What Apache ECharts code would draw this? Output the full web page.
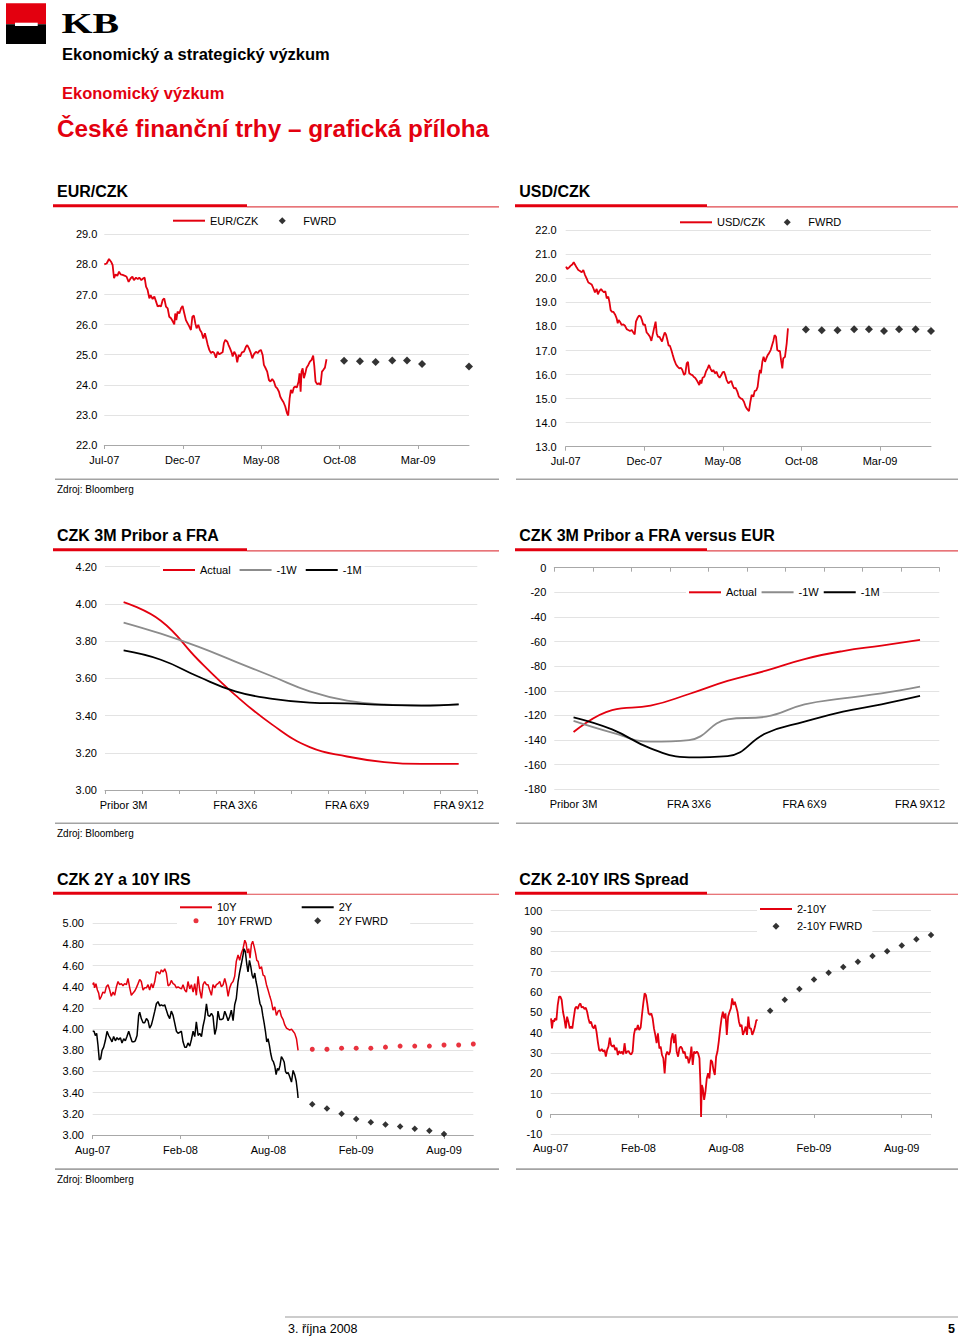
<!DOCTYPE html>
<html><head><meta charset="utf-8">
<script src="https://cdn.jsdelivr.net/npm/echarts@6/dist/echarts.min.js"></script>
<style>html,body{margin:0;padding:0;background:#fff}#c{width:960px;height:1337px}</style>
</head><body><div id="c"></div>
<script>
// ---------- DATA ----------
// x of the FX and IRS charts = months since the first axis label (Jul-07 / Aug-07)
const fxTickLabels = ['Jul-07','Dec-07','May-08','Oct-08','Mar-09'];
const irsTickLabels = ['Aug-07','Feb-08','Aug-08','Feb-09','Aug-09'];

const eurczkSpot = [[0.00,28.00],[0.15,28.03],[0.30,28.18],[0.43,28.09],[0.53,27.98],[0.62,27.54],[0.72,27.67],[0.83,27.62],[0.94,27.76],[1.04,27.67],[1.17,27.65],[1.32,27.62],[1.42,27.59],[1.55,27.42],[1.68,27.54],[1.79,27.59],[1.89,27.48],[2.02,27.56],[2.13,27.51],[2.23,27.56],[2.36,27.48],[2.49,27.54],[2.57,27.56],[2.66,27.26],[2.76,27.15],[2.87,26.87],[2.95,26.98],[3.08,26.85],[3.19,26.93],[3.29,26.78],[3.40,26.60],[3.50,26.63],[3.61,26.60],[3.72,26.82],[3.82,26.87],[3.93,26.60],[4.04,26.54],[4.14,26.26],[4.25,26.21],[4.35,26.12],[4.46,26.01],[4.52,26.37],[4.59,26.15],[4.67,26.43],[4.78,26.37],[4.89,26.54],[4.99,26.62],[5.10,26.37],[5.20,26.15],[5.31,26.04],[5.42,25.93],[5.52,25.82],[5.61,26.26],[5.71,26.30],[5.80,26.04],[5.88,25.88],[5.99,25.99],[6.10,25.82],[6.20,25.74],[6.31,25.54],[6.41,25.71],[6.52,25.49],[6.58,25.35],[6.69,25.16],[6.80,25.05],[6.90,25.10],[7.01,25.05],[7.11,24.90],[7.22,25.10],[7.33,25.01],[7.43,25.05],[7.54,25.08],[7.62,25.38],[7.71,25.49],[7.84,25.43],[7.92,25.32],[8.01,25.21],[8.11,25.08],[8.18,24.94],[8.28,25.10],[8.39,24.99],[8.47,24.75],[8.56,24.99],[8.66,24.94],[8.77,25.08],[8.90,25.10],[9.03,25.27],[9.11,25.32],[9.22,25.21],[9.32,25.08],[9.43,24.88],[9.53,25.01],[9.66,25.10],[9.77,25.05],[9.87,25.12],[9.98,25.16],[10.09,24.99],[10.17,24.66],[10.28,24.55],[10.38,24.44],[10.49,24.16],[10.59,24.11],[10.70,24.19],[10.81,24.11],[10.91,23.94],[11.02,23.88],[11.13,23.77],[11.21,23.61],[11.32,23.50],[11.42,23.42],[11.53,23.28],[11.64,23.06],[11.72,22.98],[11.81,23.55],[11.89,23.83],[11.98,23.72],[12.08,23.91],[12.17,23.94],[12.27,23.91],[12.38,24.11],[12.44,24.38],[12.51,23.77],[12.57,24.44],[12.64,24.55],[12.72,24.22],[12.81,24.38],[12.89,24.57],[13.00,24.66],[13.10,24.77],[13.21,24.83],[13.31,24.97],[13.38,24.64],[13.46,24.11],[13.57,24.02],[13.67,24.05],[13.78,24.00],[13.87,24.44],[13.95,24.49],[14.06,24.57],[14.16,24.85]];
const eurczkFwdMonths = [15.28,16.29,17.29,18.35,19.29,20.25,23.24];
const eurczkFwd = [24.80,24.78,24.76,24.81,24.81,24.69,24.61];

const usdczkSpot = [[0.02,20.49],[0.10,20.39],[0.21,20.45],[0.32,20.53],[0.42,20.58],[0.51,20.67],[0.59,20.58],[0.70,20.45],[0.80,20.35],[0.91,20.31],[1.02,20.25],[1.12,20.35],[1.23,20.14],[1.33,20.00],[1.44,19.83],[1.55,19.79],[1.65,19.75],[1.76,19.59],[1.86,19.42],[1.97,19.56],[2.05,19.34],[2.14,19.47],[2.25,19.56],[2.35,19.47],[2.44,19.42],[2.52,19.47],[2.61,19.17],[2.71,19.24],[2.78,19.03],[2.86,18.68],[2.95,18.61],[3.03,18.61],[3.14,18.50],[3.24,18.34],[3.31,18.13],[3.37,18.27],[3.45,18.20],[3.56,18.06],[3.67,18.09],[3.77,18.03],[3.88,17.89],[3.98,17.85],[4.09,17.81],[4.20,17.85],[4.30,17.75],[4.39,17.67],[4.47,18.20],[4.56,18.34],[4.66,18.45],[4.77,18.41],[4.85,18.27],[4.94,18.06],[5.04,18.09],[5.15,17.75],[5.26,17.67],[5.36,17.57],[5.45,17.40],[5.53,17.64],[5.62,17.92],[5.72,18.20],[5.79,17.71],[5.87,17.57],[5.96,17.57],[6.04,17.48],[6.13,17.37],[6.21,17.57],[6.30,17.75],[6.38,17.67],[6.47,17.44],[6.55,17.20],[6.63,17.20],[6.72,17.02],[6.80,16.84],[6.91,16.60],[7.02,16.42],[7.12,16.33],[7.23,16.26],[7.34,16.28],[7.42,16.19],[7.53,15.98],[7.61,16.05],[7.70,16.47],[7.78,16.53],[7.86,16.05],[7.95,16.01],[8.06,15.98],[8.14,15.91],[8.23,15.87],[8.33,15.77],[8.42,15.67],[8.50,15.56],[8.56,15.77],[8.63,15.63],[8.71,15.87],[8.82,15.91],[8.92,16.12],[9.03,16.26],[9.12,16.40],[9.20,16.26],[9.31,16.12],[9.39,16.19],[9.50,16.05],[9.60,16.12],[9.69,15.95],[9.79,15.87],[9.90,15.98],[9.98,16.09],[10.07,16.12],[10.15,15.98],[10.24,15.77],[10.35,15.63],[10.45,15.70],[10.54,15.73],[10.62,15.56],[10.71,15.42],[10.81,15.45],[10.92,15.29],[11.02,15.08],[11.13,15.01],[11.24,14.98],[11.34,14.87],[11.45,14.66],[11.55,14.56],[11.66,14.48],[11.75,14.87],[11.83,15.15],[11.94,15.08],[12.02,15.31],[12.13,15.35],[12.21,15.49],[12.30,15.98],[12.36,16.19],[12.42,16.05],[12.51,16.53],[12.59,16.74],[12.68,16.53],[12.76,16.67],[12.85,16.81],[12.93,16.88],[13.04,17.02],[13.12,17.20],[13.21,17.40],[13.29,17.64],[13.38,17.57],[13.46,17.02],[13.55,16.98],[13.63,16.98],[13.70,16.60],[13.78,16.26],[13.84,16.67],[13.95,16.74],[14.06,17.30],[14.14,17.92]];
const usdczkFwdMonths = [15.28,16.29,17.29,18.35,19.29,20.25,21.21,22.26,23.24];
const usdczkFwd = [17.87,17.84,17.84,17.88,17.88,17.81,17.88,17.88,17.81];

const fraCategories = ['Pribor 3M','FRA 1X4','FRA 2X5','FRA 3X6','FRA 4X7','FRA 5X8','FRA 6X9','FRA 7X10','FRA 8X11','FRA 9X12'];
const priborActual = [4.01,3.91,3.70,3.51,3.35,3.23,3.18,3.15,3.14,3.14];
const priborW1     = [3.90,3.84,3.77,3.69,3.61,3.53,3.48,3.46,3.455,3.46];
const priborM1     = [3.75,3.70,3.61,3.53,3.49,3.47,3.465,3.457,3.453,3.46];
const vsEurActual = [-133.5,-115.6,-112.1,-102.6,-92.0,-83.6,-74.2,-67.7,-63.3,-58.7];
const vsEurW1     = [-124.5,-134.0,-141.3,-140.0,-123.2,-121.0,-111.0,-106.1,-102.1,-96.6];
const vsEurM1     = [-121.5,-131.3,-146.7,-154.0,-153.0,-134.5,-125.1,-116.9,-111.0,-104.2];

const irs10y = [[0.00,4.42],[0.07,4.44],[0.13,4.39],[0.22,4.43],[0.32,4.37],[0.41,4.34],[0.48,4.28],[0.59,4.31],[0.70,4.35],[0.82,4.34],[0.93,4.40],[1.05,4.42],[1.16,4.37],[1.27,4.31],[1.39,4.35],[1.50,4.32],[1.62,4.40],[1.73,4.45],[1.84,4.42],[1.96,4.43],[2.07,4.41],[2.18,4.43],[2.30,4.42],[2.41,4.48],[2.53,4.39],[2.64,4.32],[2.75,4.34],[2.87,4.36],[2.98,4.39],[3.10,4.43],[3.21,4.47],[3.32,4.45],[3.44,4.37],[3.55,4.39],[3.67,4.39],[3.78,4.42],[3.89,4.37],[4.01,4.43],[4.12,4.39],[4.24,4.45],[4.35,4.54],[4.46,4.54],[4.58,4.52],[4.69,4.56],[4.81,4.54],[4.92,4.57],[5.03,4.53],[5.15,4.41],[5.26,4.42],[5.37,4.46],[5.49,4.43],[5.60,4.42],[5.72,4.39],[5.83,4.40],[5.94,4.39],[6.06,4.38],[6.17,4.42],[6.29,4.37],[6.40,4.35],[6.51,4.45],[6.63,4.38],[6.74,4.42],[6.86,4.35],[6.97,4.43],[7.08,4.32],[7.20,4.50],[7.31,4.37],[7.43,4.29],[7.54,4.42],[7.65,4.45],[7.77,4.42],[7.88,4.42],[7.99,4.37],[8.11,4.32],[8.22,4.42],[8.34,4.39],[8.45,4.42],[8.56,4.43],[8.68,4.45],[8.79,4.40],[8.91,4.42],[9.02,4.48],[9.13,4.42],[9.25,4.31],[9.36,4.39],[9.47,4.43],[9.59,4.45],[9.70,4.50],[9.81,4.64],[9.93,4.70],[10.04,4.65],[10.16,4.72],[10.27,4.76],[10.39,4.84],[10.48,4.81],[10.57,4.72],[10.66,4.76],[10.75,4.67],[10.84,4.80],[10.93,4.83],[11.03,4.78],[11.12,4.72],[11.21,4.65],[11.30,4.64],[11.41,4.57],[11.53,4.59],[11.64,4.51],[11.75,4.50],[11.87,4.42],[11.98,4.37],[12.10,4.31],[12.21,4.26],[12.32,4.18],[12.44,4.21],[12.55,4.13],[12.67,4.17],[12.78,4.18],[12.89,4.12],[13.01,4.09],[13.12,4.04],[13.24,4.01],[13.35,4.00],[13.46,3.99],[13.58,4.00],[13.69,3.98],[13.80,3.96],[13.92,3.91],[14.03,3.80]];
const irs2y = [[0.00,3.98],[0.09,3.98],[0.18,3.94],[0.27,3.96],[0.36,3.85],[0.45,3.71],[0.54,3.72],[0.64,3.80],[0.75,3.83],[0.86,3.89],[0.98,3.98],[1.09,3.94],[1.21,3.91],[1.32,3.88],[1.43,3.93],[1.55,3.89],[1.66,3.92],[1.77,3.90],[1.89,3.92],[2.00,3.87],[2.12,3.91],[2.23,3.89],[2.34,3.93],[2.46,3.98],[2.57,3.93],[2.69,3.88],[2.80,3.88],[2.91,3.89],[3.03,3.94],[3.14,4.13],[3.21,4.16],[3.32,4.10],[3.44,4.06],[3.55,4.06],[3.67,4.10],[3.78,4.08],[3.89,4.01],[4.01,4.04],[4.12,4.10],[4.24,4.17],[4.35,4.24],[4.46,4.26],[4.58,4.22],[4.69,4.23],[4.81,4.22],[4.92,4.23],[5.03,4.18],[5.15,4.13],[5.26,4.10],[5.37,4.17],[5.49,4.13],[5.60,4.06],[5.72,3.98],[5.83,3.96],[5.94,3.97],[6.06,3.98],[6.17,3.88],[6.29,3.83],[6.40,3.83],[6.51,3.87],[6.63,3.84],[6.74,3.90],[6.86,3.98],[6.97,3.93],[7.08,4.07],[7.20,3.94],[7.31,3.96],[7.43,3.93],[7.54,4.03],[7.65,4.10],[7.77,4.24],[7.88,4.13],[7.99,4.12],[8.11,4.15],[8.22,4.12],[8.34,3.95],[8.45,4.01],[8.56,4.17],[8.68,4.09],[8.79,4.09],[8.91,4.10],[9.02,4.17],[9.13,4.13],[9.25,4.08],[9.36,4.12],[9.47,4.18],[9.59,4.08],[9.70,4.23],[9.81,4.29],[9.93,4.45],[10.04,4.54],[10.16,4.62],[10.27,4.70],[10.34,4.76],[10.43,4.73],[10.52,4.62],[10.61,4.54],[10.71,4.65],[10.80,4.59],[10.89,4.51],[10.98,4.48],[11.07,4.53],[11.16,4.45],[11.25,4.39],[11.34,4.31],[11.43,4.24],[11.53,4.21],[11.62,4.13],[11.71,4.06],[11.80,3.98],[11.89,3.88],[11.98,3.91],[12.07,3.85],[12.16,3.77],[12.26,3.71],[12.35,3.69],[12.44,3.65],[12.53,3.57],[12.62,3.63],[12.71,3.61],[12.80,3.66],[12.89,3.74],[12.98,3.72],[13.08,3.69],[13.17,3.60],[13.26,3.58],[13.35,3.59],[13.46,3.55],[13.58,3.50],[13.69,3.61],[13.80,3.57],[13.90,3.51],[13.99,3.41],[14.03,3.35]];
const irsFwdMonths = [15,16,17,18,19,20,21,22,23,24,25,26];
const irs10yFwd = [3.81,3.81,3.82,3.82,3.82,3.83,3.84,3.84,3.84,3.85,3.85,3.86];
const irs2yFwd = [3.29,3.25,3.20,3.15,3.12,3.10,3.08,3.06,3.04,3.01];

const spread210 = [[0.02,47.0],[0.09,42.1],[0.16,46.2],[0.23,45.4],[0.29,47.0],[0.39,46.2],[0.48,53.6],[0.57,57.7],[0.66,57.7],[0.75,56.1],[0.84,50.3],[0.93,47.0],[1.03,42.1],[1.12,47.9],[1.21,45.4],[1.30,42.1],[1.39,43.0],[1.48,42.1],[1.57,47.0],[1.67,52.0],[1.76,52.8],[1.85,51.6],[1.94,53.6],[2.03,54.4],[2.12,52.3],[2.21,52.8],[2.31,51.6],[2.40,52.3],[2.49,50.3],[2.58,47.0],[2.67,44.6],[2.76,45.4],[2.85,43.0],[2.95,42.1],[3.04,43.8],[3.13,40.5],[3.22,35.6],[3.31,31.5],[3.40,31.0],[3.49,32.0],[3.59,30.7],[3.68,31.5],[3.77,28.2],[3.86,31.5],[3.95,33.1],[4.04,37.5],[4.13,33.9],[4.23,33.1],[4.32,33.9],[4.41,31.5],[4.50,32.6],[4.59,29.0],[4.68,31.0],[4.77,29.8],[4.87,30.7],[4.96,29.3],[5.05,34.8],[5.14,29.8],[5.23,30.7],[5.32,31.0],[5.41,29.8],[5.51,29.3],[5.60,30.7],[5.69,38.9],[5.78,42.1],[5.87,41.3],[5.96,43.8],[6.05,41.3],[6.15,42.5],[6.24,48.7],[6.33,54.4],[6.42,59.3],[6.51,58.5],[6.60,54.4],[6.69,49.5],[6.79,48.7],[6.88,49.5],[6.97,47.0],[7.06,42.1],[7.15,38.9],[7.24,34.8],[7.33,39.7],[7.43,32.3],[7.52,33.1],[7.61,29.0],[7.70,27.4],[7.79,20.0],[7.88,29.0],[7.97,30.7],[8.07,29.0],[8.16,30.7],[8.25,37.2],[8.34,39.7],[8.43,34.8],[8.52,39.2],[8.61,30.7],[8.71,28.2],[8.80,32.3],[8.89,33.1],[8.98,32.3],[9.07,29.8],[9.16,30.7],[9.25,27.4],[9.35,28.2],[9.44,24.9],[9.53,27.4],[9.62,33.1],[9.71,24.1],[9.80,30.7],[9.89,29.8],[9.99,30.7],[10.08,29.8],[10.17,27.4],[10.24,14.3],[10.28,-1.5],[10.33,14.3],[10.40,12.6],[10.49,6.9],[10.58,11.0],[10.67,17.5],[10.76,20.0],[10.85,17.5],[10.95,26.6],[11.04,25.7],[11.13,21.6],[11.22,19.2],[11.31,28.2],[11.40,30.7],[11.49,35.6],[11.59,42.1],[11.68,47.0],[11.77,50.3],[11.86,47.0],[11.95,49.5],[12.04,38.9],[12.13,47.9],[12.23,50.3],[12.32,52.0],[12.41,56.9],[12.50,53.6],[12.59,55.2],[12.68,52.8],[12.77,50.3],[12.87,45.4],[12.96,43.0],[13.05,43.8],[13.14,38.9],[13.23,40.5],[13.33,43.0],[13.42,38.9],[13.51,47.9],[13.60,42.1],[13.69,42.1],[13.78,38.9],[13.87,40.5],[13.97,43.0],[14.06,46.2],[14.15,46.2]];
const spread210Fwd = [50.8,56.2,61.5,66.1,69.5,72.3,74.9,77.7,80.0,82.9,85.9,88.0];

// ---------- STYLE ----------
const RED = '#e3000f', GREY = '#8c8c8c', BLACK = '#000000';
const FONT = '"Liberation Sans", Arial, Helvetica, sans-serif';
// legend icons: a 32x7 box holding a short bar, a diamond or a dot
const ICON_LINE = 'path://M0,0M32,7M0,2.5L32,2.5L32,4.5L0,4.5Z';
const ICON_DIAMOND = 'path://M0,0M32,7M16,0L19.5,3.5L16,7L12.5,3.5Z';
const ICON_DOT = 'path://M0,0M32,7M16,1A2.5,2.5,0,1,1,16,6A2.5,2.5,0,1,1,16,1Z';

const chart = echarts.init(document.getElementById('c'), null, {renderer: 'svg'});

function txt(x, y, text, size, o) {
  o = o || {};
  return {type: 'text', x: x, y: y, scaleX: o.scaleX || 1, silent: true,
    style: {text: text, fill: o.fill || '#000', fontSize: size, fontFamily: o.family || FONT,
      fontWeight: o.bold ? 'bold' : 'normal', align: o.align || 'left', verticalAlign: 'middle'}};
}
function rect(x, y, w, h, fill) {
  return {type: 'rect', silent: true, shape: {x: x, y: y, width: w, height: h}, style: {fill: fill}};
}
function section(side, titleY, ruleY, bottomY, title, zdrojY) {
  const L = side === 'L';
  const x0 = L ? 53 : 515, tx = L ? 57 : 519.3, mid = L ? 247 : 707, end = L ? 499 : 958;
  const out = [
    txt(tx, titleY, title, 16, {bold: true}),
    rect(x0, ruleY, mid - x0, 3, RED),
    rect(mid, ruleY + 2, end - mid, 1.1, '#e0474c'),
    rect(L ? 55 : 516, bottomY, end - (L ? 55 : 516), 1.6, '#a3a3a3')
  ];
  if (zdrojY) out.push(txt(57, zdrojY, 'Zdroj: Bloomberg', 10));
  return out;
}

const graphics = [].concat(
  [rect(6, 3.3, 40, 21, RED), rect(6, 24.3, 40, 19.7, '#000'), rect(15, 22.7, 22.7, 3.3, '#fff'),
   txt(61.5, 23.5, 'KB', 30, {bold: true, family: '"Liberation Serif", serif', scaleX: 1.33}),
   txt(62, 54.3, 'Ekonomický a strategický výzkum', 16.5, {bold: true}),
   txt(62, 92.5, 'Ekonomický výzkum', 16.5, {bold: true, fill: RED}),
   txt(57, 128, 'České finanční trhy – grafická příloha', 24.3, {bold: true, fill: RED})],
  section('L', 191.8, 204.3, 478.5, 'EUR/CZK', 489),
  section('R', 191.8, 204.3, 478.5, 'USD/CZK'),
  section('L', 535.8, 548.3, 822.5, 'CZK 3M Pribor a FRA', 833),
  section('R', 535.8, 548.3, 822.5, 'CZK 3M Pribor a FRA versus EUR'),
  section('L', 879.2, 891.7, 1168.3, 'CZK 2Y a 10Y IRS', 1179),
  section('R', 879.2, 891.7, 1168.3, 'CZK 2-10Y IRS Spread'),
  [rect(285, 1316.5, 673, 1, '#9a9a9a'),
   txt(288, 1328.5, '3. října 2008', 12.5),
   txt(955, 1328.5, '5', 12.5, {bold: true, align: 'right'})]
);

// ---------- AXES ----------
const labelBase = {color: '#000', fontSize: 11, fontFamily: FONT};
const splitBase = {show: true, lineStyle: {color: '#e3e3e3', width: 1}};
const lineBase = {show: true, lineStyle: {color: '#a8a8a8', width: 1}};
const tickBase = {show: true, length: 4, lineStyle: {color: '#a8a8a8'}};

function yAx(g, min, max, interval, dec, margin) {
  return {type: 'value', gridIndex: g, min: min, max: max, interval: interval,
    axisLine: {show: false}, axisTick: {show: false}, splitLine: splitBase,
    axisLabel: Object.assign({}, labelBase, {margin: margin, formatter: v => v.toFixed(dec)})};
}
function monthLabel(labels, step) {
  return v => { const i = v / step, r = Math.round(i); return Math.abs(i - r) < 1e-6 && labels[r] ? labels[r] : ''; };
}
function monthAx(g, max, step, labels, margin, extra) {
  return Object.assign({type: 'value', gridIndex: g, min: 0, max: max, interval: step,
    axisLine: lineBase, axisTick: tickBase, splitLine: {show: false},
    axisLabel: Object.assign({}, labelBase, {margin: margin, showMaxLabel: false, formatter: monthLabel(labels, step)})}, extra || {});
}
function catAx(g, extra) {
  return Object.assign({type: 'category', gridIndex: g, data: fraCategories, boundaryGap: true,
    axisLine: lineBase, axisTick: Object.assign({}, tickBase, {interval: 0, alignWithLabel: false}),
    splitLine: {show: false},
    axisLabel: Object.assign({}, labelBase, {interval: 2, margin: 9})}, extra || {});
}

const xAxes = [
  monthAx(0, 23.24, 5, fxTickLabels, 9),
  monthAx(1, 23.24, 5, fxTickLabels, 8.5),
  catAx(2),
  catAx(3, {position: 'top', axisTick: Object.assign({}, tickBase, {interval: 0, inside: true}), axisLabel: {show: false}}),
  catAx(3, {position: 'bottom', axisLine: {show: false}, axisTick: {show: false}}),
  monthAx(4, 26, 6, irsTickLabels, 9.5),
  monthAx(5, 26, 6, irsTickLabels, 8.5, {position: 'top',
    axisTick: Object.assign({}, tickBase, {inside: true}), axisLabel: {show: false}}),
  monthAx(5, 26, 6, irsTickLabels, 8.5, {position: 'bottom', axisLine: {show: false, onZero: false}, axisTick: {show: false}})
];
xAxes[6].axisLine = {show: true, onZero: true, lineStyle: {color: '#a8a8a8', width: 1}};

const yAxes = [
  yAx(0, 22, 29, 1, 1, 7),
  yAx(1, 13, 22, 1, 1, 9),
  yAx(2, 3.0, 4.2, 0.2, 2, 8),
  yAx(3, -180, 0, 20, 0, 8),
  yAx(4, 3.0, 5.0, 0.2, 2, 8.7),
  yAx(5, -10, 100, 10, 0, 8.4)
];

// ---------- SERIES ----------
function lineS(name, xi, yi, data, color, width, smooth) {
  return {type: 'line', name: name, xAxisIndex: xi, yAxisIndex: yi, data: data, symbol: 'none',
    smooth: smooth || false, lineStyle: {color: color, width: width}, itemStyle: {color: color}, z: 3};
}
function dots(name, xi, yi, xs, ys, color, symbol, size) {
  return {type: 'scatter', name: name, xAxisIndex: xi, yAxisIndex: yi,
    data: ys.map((v, i) => [xs[i], v]), symbol: symbol, symbolSize: size, itemStyle: {color: color}, z: 4};
}

const series = [
  lineS('EUR/CZK', 0, 0, eurczkSpot, RED, 1.8),
  dots('FWRD', 0, 0, eurczkFwdMonths, eurczkFwd, BLACK, 'diamond', 8),
  lineS('USD/CZK', 1, 1, usdczkSpot, RED, 1.8),
  dots('FWRD', 1, 1, usdczkFwdMonths, usdczkFwd, BLACK, 'diamond', 8),
  lineS('Actual', 2, 2, priborActual, RED, 1.8, 0.45),
  lineS('-1W', 2, 2, priborW1, GREY, 1.8, 0.45),
  lineS('-1M', 2, 2, priborM1, BLACK, 1.8, 0.45),
  lineS('Actual', 3, 3, vsEurActual, RED, 1.8, 0.45),
  lineS('-1W', 3, 3, vsEurW1, GREY, 1.8, 0.45),
  lineS('-1M', 3, 3, vsEurM1, BLACK, 1.8, 0.45),
  lineS('10Y', 5, 4, irs10y, RED, 1.5),
  lineS('2Y', 5, 4, irs2y, BLACK, 1.5),
  dots('10Y FRWD', 5, 4, irsFwdMonths, irs10yFwd, RED, 'circle', 5),
  dots('2Y FWRD', 5, 4, irsFwdMonths, irs2yFwd, BLACK, 'diamond', 6.5),
  lineS('2-10Y', 6, 5, spread210, RED, 1.8),
  dots('2-10Y FWRD', 6, 5, irsFwdMonths, spread210Fwd, BLACK, 'diamond', 6.5)
];

function item(name, icon) { return {name: name, icon: icon}; }
function leg(left, top, data, gap, extra) {
  return Object.assign({left: left, top: top, data: data, itemGap: gap, itemWidth: 32, itemHeight: 7,
    padding: [2, 3, 2, 3], backgroundColor: '#fff', selectedMode: false,
    itemStyle: {borderWidth: 0}, lineStyle: {width: 0},
    textStyle: {color: '#000', fontSize: 11, fontFamily: FONT}}, extra || {});
}
const legends = [
  leg(170, 213.2, [item('EUR/CZK', ICON_LINE), item('FWRD', ICON_DIAMOND)], 8),
  leg(677, 214.8, [item('USD/CZK', ICON_LINE), item('FWRD', ICON_DIAMOND)], 6),
  leg(160, 562.5, [item('Actual', ICON_LINE), item('-1W', ICON_LINE), item('-1M', ICON_LINE)], 9),
  leg(686, 584.8, [item('Actual', ICON_LINE), item('-1W', ICON_LINE), item('-1M', ICON_LINE)], 5),
  leg(177, 899.8, [item('10Y', ICON_LINE), item('10Y FRWD', ICON_DOT)], 2.4, {orient: 'vertical', padding: [2, 32, 2, 3]}),
  leg(298.7, 899.8, [item('2Y', ICON_LINE), item('2Y FWRD', ICON_DIAMOND)], 2.4, {orient: 'vertical', padding: [2, 22, 2, 3]}),
  leg(757, 901.5, [item('2-10Y', ICON_LINE), item('2-10Y FWRD', ICON_DIAMOND)], 6.3, {orient: 'vertical', padding: [2, 10, 2, 3]})
];

chart.setOption({
  animation: false,
  backgroundColor: '#fff',
  textStyle: {fontFamily: FONT},
  grid: [
    {left: 104.3, top: 234.3, width: 364.7, height: 210.7},
    {left: 565.7, top: 230.3, width: 365.3, height: 216.4},
    {left: 105, top: 566.7, width: 372.3, height: 223.3},
    {left: 554.3, top: 567.7, width: 385, height: 221.6},
    {left: 92.7, top: 923.3, width: 380.6, height: 211.7},
    {left: 550.7, top: 910.7, width: 380.3, height: 223.6}
  ],
  xAxis: xAxes,
  yAxis: yAxes,
  legend: legends,
  series: series,
  graphic: graphics
});
</script></body></html>
